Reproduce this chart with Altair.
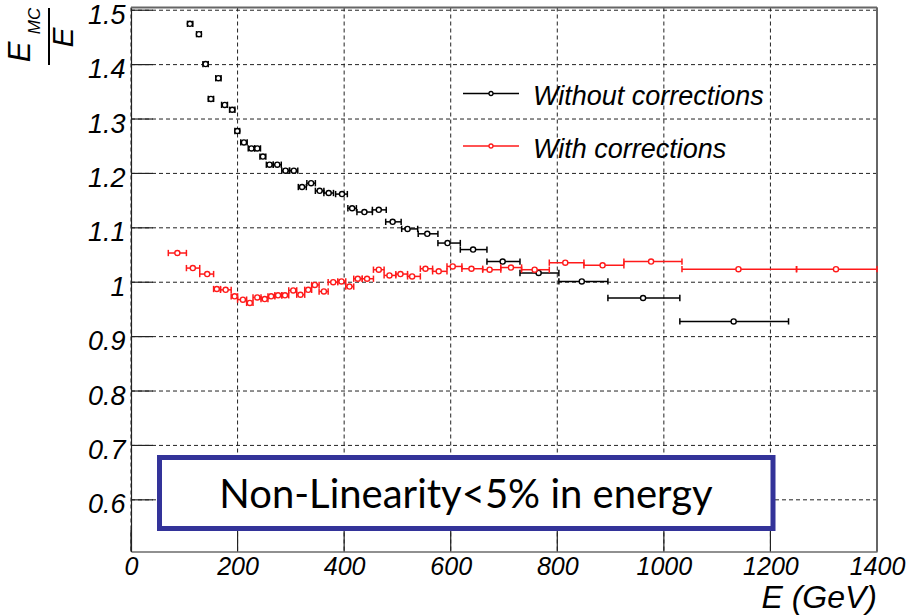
import altair as alt
import pandas as pd

# ---- data ----
black_x = [110.6, 127.5, 140, 164, 150, 176, 190, 199.5, 212, 226, 237, 247.5, 260, 274.5, 290, 305.6,
           321, 338, 354, 371, 396, 415, 438, 465, 491, 519, 556, 594, 642, 697.5, 765, 846, 961, 1131]
black_y = [1.475, 1.456, 1.401, 1.375, 1.337, 1.326, 1.317, 1.278, 1.257, 1.246, 1.246, 1.231, 1.216, 1.216,
           1.205, 1.205, 1.175, 1.182, 1.168, 1.164, 1.162, 1.136, 1.129, 1.133, 1.111, 1.098, 1.089, 1.072,
           1.060, 1.038, 1.017, 1.0015, 0.971, 0.928]
black_lo = [106, 123, 135, 159, 145, 170, 185, 195, 206, 220, 232, 242, 254, 267, 283, 298, 314, 330, 346, 362,
            384, 407, 424, 453, 478, 508, 539, 576, 618, 668, 730, 803, 895, 1030]
black_hi = [116, 132, 145, 169, 155, 181, 195, 204, 218, 232, 243, 253, 267, 282, 297, 313, 329, 346, 362, 380,
            406, 423, 453, 479, 507, 538, 576, 618, 668, 730, 803, 895, 1030, 1234]

red_x = [87, 116, 143, 161, 177.6, 194.5, 210, 223, 237, 251, 263, 276, 289, 304.5, 318, 332.6, 345, 362, 379.5,
         395, 410, 425.6, 443, 465, 485, 505.7, 527.6, 552.6, 577.5, 603.8, 638.9, 673, 713, 757.5, 815, 885, 976,
         1140, 1323]
red_y = [1.0537, 1.026, 1.015, 0.9875, 0.986, 0.974, 0.968, 0.962, 0.972, 0.969, 0.974, 0.976, 0.976, 0.985,
         0.977, 0.986, 0.995, 0.983, 1.000, 1.0015, 0.992, 1.0064, 1.0064, 1.023, 1.0125, 1.015, 1.0107, 1.0248,
         1.020, 1.029, 1.0248, 1.023, 1.027, 1.023, 1.036, 1.031, 1.038, 1.024, 1.024]
red_edges = [70, 104, 129, 155, 168, 188, 200, 217, 229, 244, 257, 270, 283, 296, 311, 326, 339, 353, 370, 388,
             403, 418, 434, 455, 475, 497, 519, 543, 566, 593, 621, 660, 694, 733, 785, 850, 925, 1034, 1249, 1400]

x_ticks = [0, 200, 400, 600, 800, 1000, 1200, 1400]
y_ticks = [0.6, 0.7, 0.8, 0.9, 1.0, 1.1, 1.2, 1.3, 1.4, 1.5]

legend_labels = ["Without corrections", "With corrections"]
box_text = "Non-Linearity<5% in energy"

# ---- tables ----
black = pd.DataFrame({"E": black_x, "r": black_y, "lo": black_lo, "hi": black_hi})
red = pd.DataFrame({"E": red_x, "r": red_y, "lo": red_edges[:-1], "hi": red_edges[1:]})

W, H = 746, 544
FONT = "Liberation Sans"
RED = "#ff1a1a"
xs = alt.Scale(domain=[0, 1400], nice=False, zero=False)
ys = alt.Scale(domain=[0.505, 1.505], nice=False, zero=False)

one = pd.DataFrame({"k": [0]})


def series(df, color):
    base = alt.Chart(df)
    bar = base.mark_rule(color=color, strokeWidth=1.5).encode(
        x=alt.X("lo:Q", scale=xs), x2="hi:Q", y=alt.Y("r:Q", scale=ys))
    cap_path = "M0,-1L0,1"
    cap_lo = base.mark_point(shape=cap_path, size=40, color=color, strokeWidth=1.5, filled=False, opacity=1).encode(
        x=alt.X("lo:Q", scale=xs), y=alt.Y("r:Q", scale=ys))
    cap_hi = base.mark_point(shape=cap_path, size=40, color=color, strokeWidth=1.5, filled=False, opacity=1).encode(
        x=alt.X("hi:Q", scale=xs), y=alt.Y("r:Q", scale=ys))
    pts = base.mark_point(shape="circle", size=26, stroke=color, fill="white", filled=True, strokeWidth=1.4,
                          opacity=1).encode(x=alt.X("E:Q", scale=xs), y=alt.Y("r:Q", scale=ys))
    return [bar, cap_lo, cap_hi, pts]


# axes / grid layer
grid_x = alt.Chart(pd.DataFrame({"v": x_ticks})).mark_rule(color="#222", strokeWidth=1, strokeDash=[4, 3]).encode(
    x=alt.X("v:Q", scale=xs,
            axis=alt.Axis(values=x_ticks, format="d", title=None, grid=False, tickSize=0, labelFontSize=25,
                          labelFont=FONT, labelFontStyle="italic", labelColor="black", labelPadding=3,
                          domainColor="#222", domainWidth=1.2, labelFlush=False)))
grid_y = alt.Chart(pd.DataFrame({"v": y_ticks})).mark_rule(color="#222", strokeWidth=1, strokeDash=[4, 3]).encode(
    y=alt.Y("v:Q", scale=ys,
            axis=alt.Axis(values=y_ticks, title=None, grid=False, tickSize=0, labelFontSize=27,
                          labelFont=FONT, labelFontStyle="italic", labelColor="black", labelPadding=6,
                          labelOffset=5, domainColor="#222", domainWidth=1.2, labelFlush=False,
                          labelExpr="datum.value == 1 ? '1' : format(datum.value, '.1f')")))
tick_y = alt.Chart(pd.DataFrame({"v": y_ticks})).mark_rule(color="#222", strokeWidth=1.2).encode(
    y=alt.Y("v:Q", scale=ys), x=alt.value(0), x2=alt.value(22))
tick_x = alt.Chart(pd.DataFrame({"v": x_ticks})).mark_rule(color="#222", strokeWidth=1.2).encode(
    x=alt.X("v:Q", scale=xs), y=alt.value(H), y2=alt.value(H - 22))
frame_top = alt.Chart(one).mark_rule(color="#666", strokeWidth=2).encode(
    x=alt.value(0), x2=alt.value(W), y=alt.value(0))
frame_right = alt.Chart(one).mark_rule(color="#666", strokeWidth=2).encode(
    x=alt.value(W), y=alt.value(0), y2=alt.value(H))

layers = [grid_x, grid_y, tick_y, tick_x, frame_top, frame_right]
layers += series(black, "black")
layers += series(red, RED)

# legend
for i, (lab, col) in enumerate(zip(legend_labels, ["black", RED])):
    ly = 86 + 52.5 * i
    layers.append(alt.Chart(one).mark_rule(color=col, strokeWidth=1.5).encode(
        x=alt.value(332), x2=alt.value(388), y=alt.value(ly)))
    layers.append(alt.Chart(one).mark_point(shape="circle", size=16, stroke=col, fill="white", filled=True,
                                            strokeWidth=1.3, opacity=1).encode(x=alt.value(360), y=alt.value(ly)))
    layers.append(alt.Chart(one).mark_text(text=lab, font=FONT, fontSize=27, fontStyle="italic", align="left",
                                           baseline="alphabetic", color="black").encode(
        x=alt.value(402), y=alt.value(ly + 11.5)))

# annotation box
layers.append(alt.Chart(one).mark_rect(fill="white", stroke="#333399", strokeWidth=5).encode(
    x=alt.value(28.5), x2=alt.value(642), y=alt.value(450), y2=alt.value(521)))
layers.append(alt.Chart(one).mark_text(text=box_text, font="Lato", fontSize=40, align="center",
                                       baseline="alphabetic", color="black").encode(
    x=alt.value(335), y=alt.value(500)))

# axis titles
layers.append(alt.Chart(one).mark_text(text="E (GeV)", font=FONT, fontSize=32, fontStyle="italic", align="right",
                                       baseline="alphabetic", color="black").encode(
    x=alt.value(W), y=alt.value(600)))
layers.append(alt.Chart(one).mark_text(text="E", font=FONT, fontSize=31, fontStyle="italic", angle=270,
                                       align="center", baseline="middle", color="black").encode(
    x=alt.value(-110), y=alt.value(44.5)))
layers.append(alt.Chart(one).mark_text(text="MC", font=FONT, fontSize=17, fontStyle="italic", angle=270,
                                       align="center", baseline="middle", color="black").encode(
    x=alt.value(-96), y=alt.value(13.5)))
layers.append(alt.Chart(one).mark_rule(color="black", strokeWidth=2).encode(
    x=alt.value(-82), y=alt.value(0.5), y2=alt.value(57.5)))
layers.append(alt.Chart(one).mark_text(text="E", font=FONT, fontSize=30, fontStyle="italic", angle=270,
                                       align="center", baseline="middle", color="black").encode(
    x=alt.value(-67), y=alt.value(30)))

chart = alt.layer(*layers).properties(
    width=W, height=H,
    padding={"left": 131, "top": 7.5, "right": 33, "bottom": 63.5},
    autosize=alt.AutoSizeParams(type="none"),
    background="white",
).configure_view(stroke=None)

chart.save("out.html", embed_options={"renderer": "svg", "actions": False})
